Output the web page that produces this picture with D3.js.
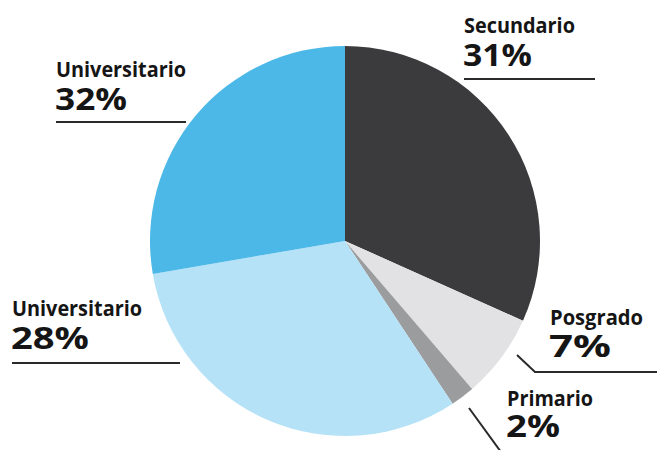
<!DOCTYPE html>
<html><head><meta charset="utf-8">
<script src="https://cdn.jsdelivr.net/npm/d3@7"></script>
<style>html,body{margin:0;padding:0;background:#fff;}svg{display:block;}</style>
</head><body>
<svg id="chart" width="657" height="450"></svg>
<script>
// Categories in drawing order (clockwise from 12 o'clock)
const categories = ["Secundario", "Posgrado", "Primario", "Universitario", "Universitario"];
const sliceShares = [31.7, 7.0, 2.0, 31.6, 27.7];
// Percentages as printed on the labels
const labelPercents = [31, 7, 2, 28, 32];
const colors = ["#3b3a3c", "#e2e2e4", "#9b9c9e", "#b6e2f7", "#4bb8e8"];

const svg = d3.select("#chart");
const cx = 345, cy = 241, r = 195;

const pie = d3.pie().sort(null).value(d => d)(sliceShares);
const arc = d3.arc().innerRadius(0).outerRadius(r);

svg.append("g").attr("transform", `translate(${cx},${cy})`)
  .selectAll("path").data(pie).join("path")
  .attr("d", arc).attr("fill", (d, i) => colors[i]);

// Label layout (name text, percent text, leader line)
const layout = [
  {x: 464, nameY: 33, nameW: 111, pctY: 66, pctW: 69, line: [[464, 79], [595, 79]]},
  {x: 550, nameY: 325, nameW: 93, pctY: 357, pctW: 62, line: [[517, 355], [535, 372], [660, 372]]},
  {x: 507, nameY: 406, nameW: 86, pctY: 437, pctW: 54, line: [[469, 408], [501, 452]]},
  {x: 12, nameY: 316, nameW: 130, pctY: 349, pctW: 78, line: [[12, 363], [180, 363]]},
  {x: 56, nameY: 77, nameW: 130, pctY: 110, pctW: 72, line: [[56, 122], [186, 122]]}
];

const lg = svg.append("g");
layout.forEach((L, i) => {
  lg.append("text").attr("x", L.x).attr("y", L.nameY)
    .attr("font-family", "'Open Sans', sans-serif").attr("font-weight", 700)
    .attr("font-size", 22).attr("fill", "#151515")
    .attr("textLength", L.nameW).attr("lengthAdjust", "spacingAndGlyphs")
    .text(categories[i]);
  lg.append("text").attr("x", L.x - 1).attr("y", L.pctY)
    .attr("font-family", "'Open Sans', sans-serif").attr("font-weight", 700)
    .attr("font-size", 31).attr("fill", "#151515")
    .attr("textLength", L.pctW).attr("lengthAdjust", "spacingAndGlyphs")
    .text(labelPercents[i] + "%");
  lg.append("path").attr("d", d3.line()(L.line))
    .attr("fill", "none").attr("stroke", "#2a2a2a").attr("stroke-width", 2);
});
</script>
</body></html>
